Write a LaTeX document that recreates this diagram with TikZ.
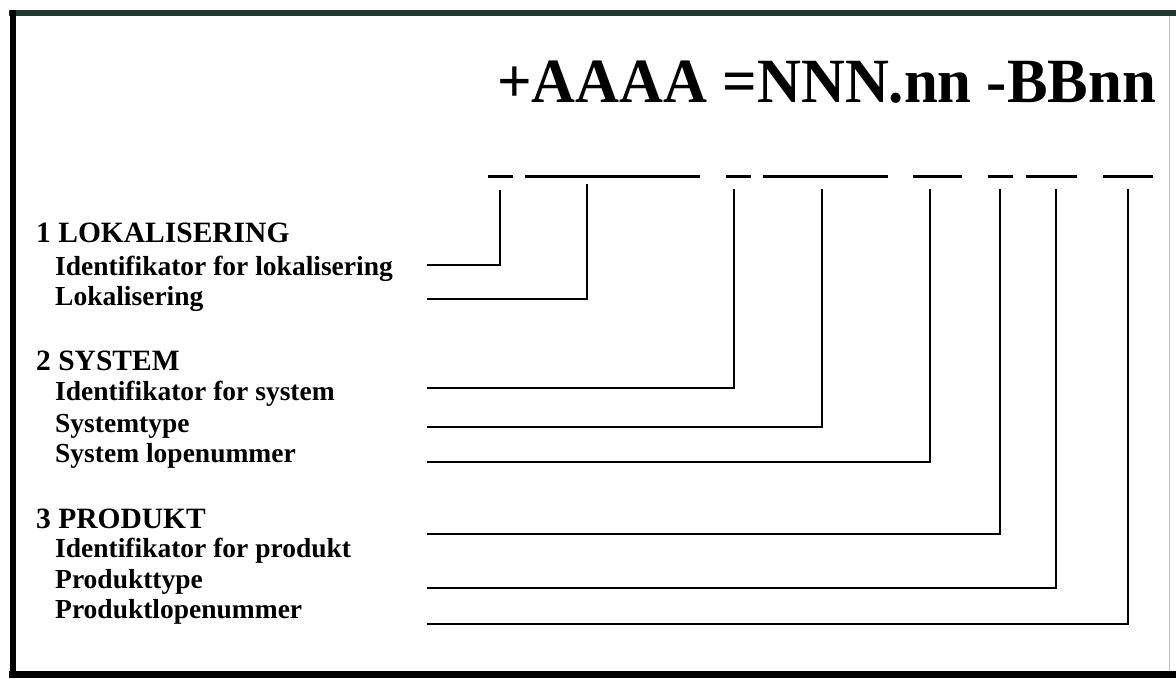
\documentclass[tikz,border=0pt]{standalone}
\usepackage{fontspec}
\setmainfont{Liberation Serif}
\newfontfamily\codefont[FakeStretch=0.965]{Liberation Serif}
\definecolor{framegreen}{RGB}{28,58,44}

\begin{document}
\begin{tikzpicture}[x=1pt,y=-1pt,
    bar/.style={fill=black,inner sep=0pt,minimum height=3pt},
    head/.style={anchor=base west,inner sep=0pt,font=\fontsize{29.5}{29.5}\selectfont\bfseries},
    item/.style={anchor=base west,inner sep=0pt,font=\fontsize{27.5}{27.5}\selectfont\bfseries},
    link/.style={line width=2.4pt}]

    \useasboundingbox (0,0) rectangle (1176,678);

    % frame
    \draw[line width=6pt,framegreen] (9,13) -- (1176,13);
    \draw[line width=6pt,black] (12.5,10) -- (12.5,678);
    \draw[line width=7pt,black] (9,674.5) -- (1176,674.5);
    \draw[line width=1pt,black!25] (1169,16) -- (1169,671);

    % code
    \node[anchor=base west,inner sep=0pt,font=\codefont\fontsize{63}{63}\selectfont\bfseries] (code) at (497,102) {+AAAA =NNN.nn -BBnn};

    % dashes under the code
    \node[bar,minimum width=25pt] (d1) at (500.5,176) {};
    \node[bar,minimum width=175pt] (d2) at (612.5,176) {};
    \node[bar,minimum width=25pt] (d3) at (738.5,176) {};
    \node[bar,minimum width=125pt] (d4) at (825.5,176) {};
    \node[bar,minimum width=49pt] (d5) at (937.5,176) {};
    \node[bar,minimum width=25pt] (d6) at (1000.5,176) {};
    \node[bar,minimum width=51pt] (d7) at (1051.5,176) {};
    \node[bar,minimum width=50pt] (d8) at (1128,176) {};

    % labels
    \node[head] (L) at (36,242) {1 LOKALISERING};
    \node[item] (L1) at (55,275) {Identifikator for lokalisering};
    \node[item] (L2) at (55,305) {Lokalisering};
    \node[head] (S) at (36,370) {2 SYSTEM};
    \node[item] (S1) at (55,400) {Identifikator for system};
    \node[item] (S2) at (55,432) {Systemtype};
    \node[item] (S3) at (55,462) {System lopenummer};
    \node[head] (P) at (36,528) {3 PRODUKT};
    \node[item] (P1) at (55,557) {Identifikator for produkt};
    \node[item] (P2) at (55,588) {Produkttype};
    \node[item] (P3) at (55,618) {Produktlopenummer};

    % line ends
    \coordinate (l1) at (427,265);
    \coordinate (l2) at (427,299);
    \coordinate (s1) at (427,388);
    \coordinate (s2) at (427,427);
    \coordinate (s3) at (427,462);
    \coordinate (p1) at (427,534);
    \coordinate (p2) at (427,588);
    \coordinate (p3) at (427,624);
    \coordinate (t1) at (500,190);
    \coordinate (t2) at (587,184);
    \coordinate (t3) at (734,189);
    \coordinate (t4) at (822,189);
    \coordinate (t5) at (930,189);
    \coordinate (t6) at (1000,189);
    \coordinate (t7) at (1056,189);
    \coordinate (t8) at (1128,189);

    \draw[link] (l1) -| (t1);
    \draw[link] (l2) -| (t2);
    \draw[link] (s1) -| (t3);
    \draw[link] (s2) -| (t4);
    \draw[link] (s3) -| (t5);
    \draw[link] (p1) -| (t6);
    \draw[link] (p2) -| (t7);
    \draw[link] (p3) -| (t8);
\end{tikzpicture}
\end{document}
